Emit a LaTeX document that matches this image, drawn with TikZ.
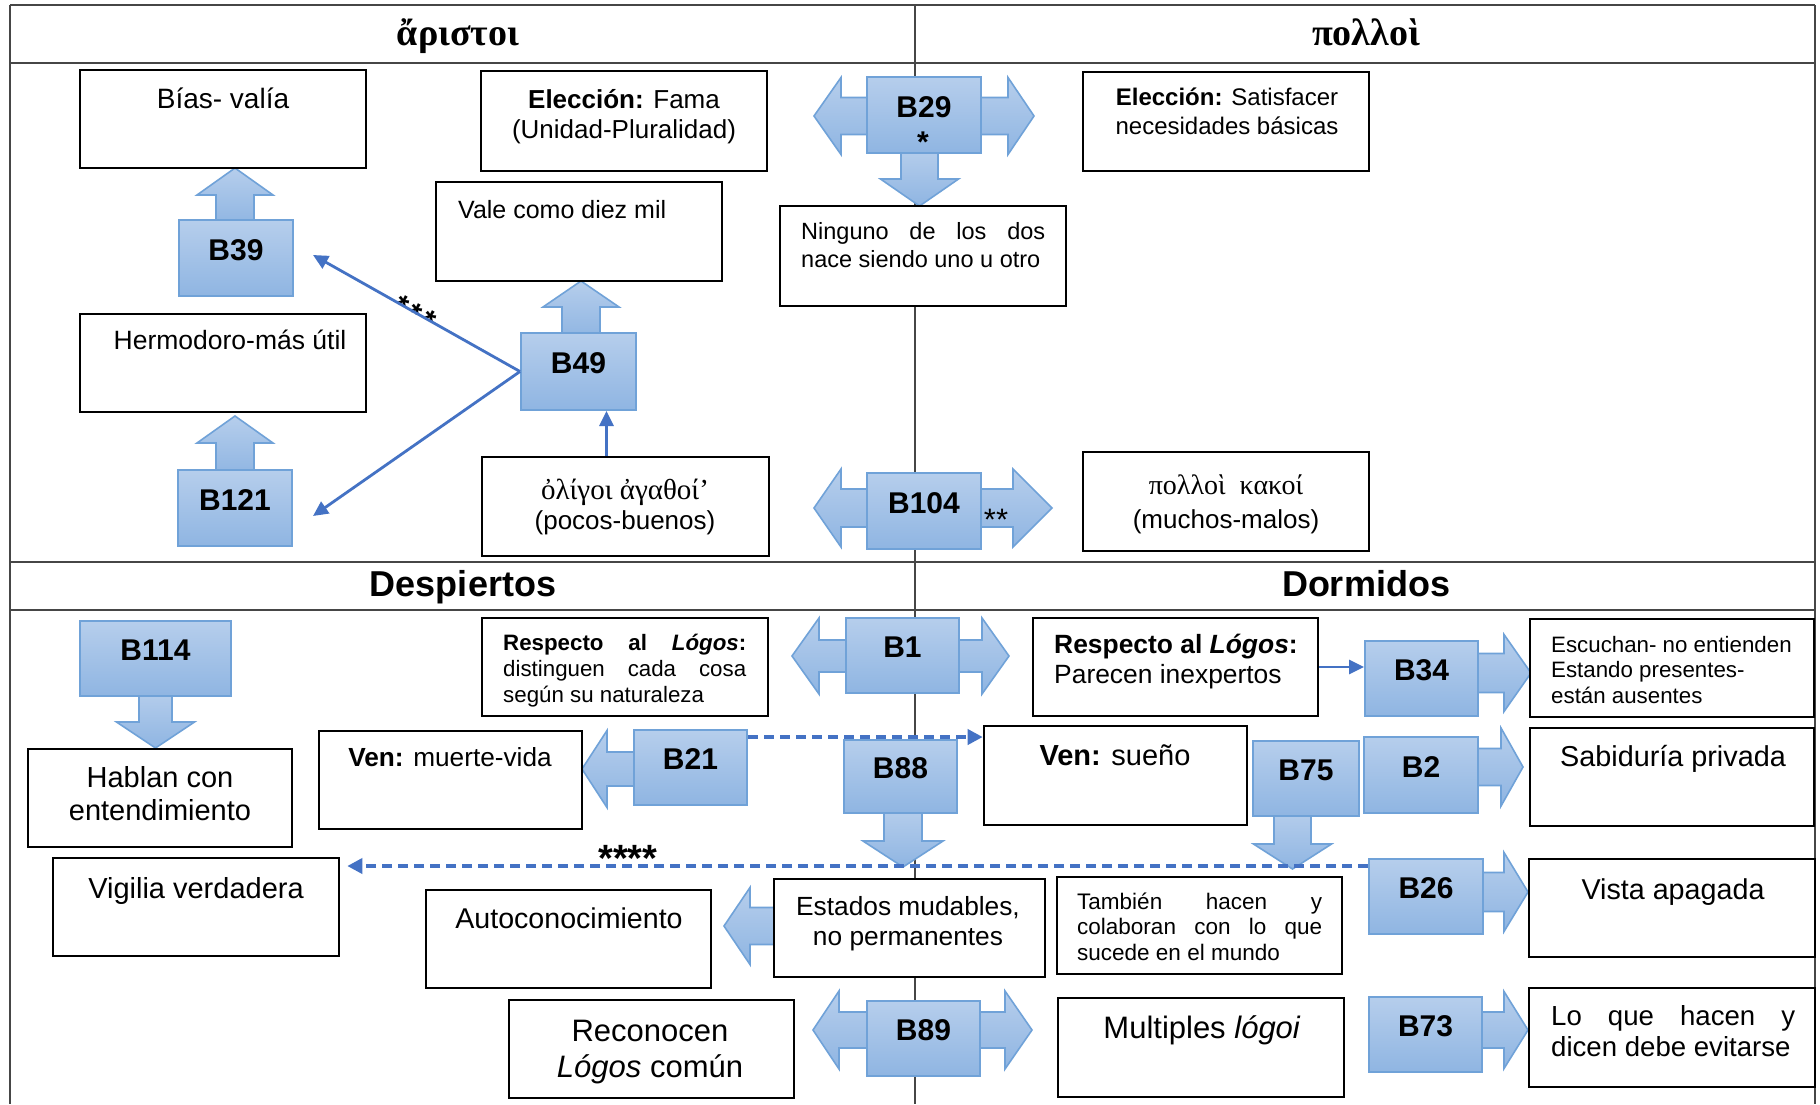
\documentclass[tikz,border=0pt]{standalone}
\usepackage{fontspec}
\setmainfont{Liberation Sans}
\newfontfamily\grk{Liberation Serif}
\usetikzlibrary{arrows.meta}
\definecolor{btop}{RGB}{182,206,236}
\definecolor{bbot}{RGB}{143,181,226}
\definecolor{bedge}{RGB}{112,162,216}
\definecolor{connc}{RGB}{68,114,196}
\definecolor{framec}{RGB}{70,70,70}
\tikzset{
  frameline/.style={draw=framec, line width=1.6pt},
  wbox/.style={draw=black, line width=2.6pt, fill=white, inner sep=0pt},
  bbox/.style={draw=bedge, line width=2pt, top color=btop, bottom color=bbot, inner sep=0pt},
  barrow/.style={draw=bedge, line width=1.6pt, top color=btop, bottom color=bbot},
  blab/.style={inner sep=0pt, font=\bfseries\fontsize{30}{36}\selectfont},
  conn/.style={draw=connc, line width=2.8pt, -{Triangle[length=15pt,width=14pt]}},
  dconn/.style={draw=connc, line width=3.6pt, dash pattern=on 10pt off 6pt, -{Triangle[length=15pt,width=15pt]}},
  tx/.style={inner sep=0pt, anchor=base},
  txl/.style={inner sep=0pt, anchor=base west}
}
\newcommand{\wb}[5]{\node[wbox, minimum width={(#4-#2)*1pt}, minimum height={(#5-#3)*1pt}] (#1) at ({(#2+#4)/2},{(#3+#5)/2}) {};}
\newcommand{\bb}[6]{\node[bbox, minimum width={(#4-#2)*1pt}, minimum height={(#5-#3)*1pt}, label={[blab, yshift=8pt]center:#6}] (#1) at ({(#2+#4)/2},{(#3+#5)/2}) {};}
% horizontal single arrow: xs, xh, xt, yc, shaft half, head half
\newcommand{\arR}[6]{\path[barrow] (#1,#4-#5) -- (#2,#4-#5) -- (#2,#4-#6) -- (#3,#4) -- (#2,#4+#6) -- (#2,#4+#5) -- (#1,#4+#5) -- cycle;}
% vertical single arrow: xc, ys, yh, yt, shaft half, head half
\newcommand{\arV}[6]{\path[barrow] (#1-#5,#2) -- (#1-#5,#3) -- (#1-#6,#3) -- (#1,#4) -- (#1+#6,#3) -- (#1+#5,#3) -- (#1+#5,#2) -- cycle;}
% double arrow: left tip, left head base, right head base, right tip, yc, shaft half, head half
\newcommand{\arD}[7]{\path[barrow] (#1,#5) -- (#2,#5-#7) -- (#2,#5-#6) -- (#3,#5-#6) -- (#3,#5-#7) -- (#4,#5) -- (#3,#5+#7) -- (#3,#5+#6) -- (#2,#5+#6) -- (#2,#5+#7) -- cycle;}
\newcommand{\mlc}[1]{\begin{tabular}[t]{@{}c@{}}#1\end{tabular}}
\newcommand{\mll}[1]{\begin{tabular}[t]{@{}l@{}}#1\end{tabular}}
\newcommand{\fs}[2]{\fontsize{#1}{#2}\selectfont}

\begin{document}
\begin{tikzpicture}[x=1pt,y=-1pt]
\useasboundingbox (0,0) rectangle (1820,1104);
\fill[white] (0,0) rectangle (1820,1104);

% frame
\draw[frameline] (10,5) -- (1815,5);
\draw[frameline] (10,63) -- (1815,63);
\draw[frameline] (10,562) -- (1815,562);
\draw[frameline] (10,610) -- (1815,610);
\draw[frameline] (10,5) -- (10,1104);
\draw[frameline] (1815,5) -- (1815,1104);
\draw[frameline] (915,5) -- (915,1104);

% headers
\node[tx, font=\grk\bfseries\fs{38}{44}] (aristoi) at (458,45) {ἄριστοι};
\node[tx, font=\grk\bfseries\fs{38}{44}] (polloi) at (1366,45) {πολλοὶ};
\node[tx, font=\bfseries\fs{36}{40}] (desp) at (463,596) {Despiertos};
\node[tx, font=\bfseries\fs{36}{40}] (dorm) at (1366,596) {Dormidos};

% block arrows
\arV{235}{225}{195}{168}{19}{38}
\arV{235}{475}{443}{416}{19}{38}
\arV{581}{338}{307}{281}{19}{38}
\arD{814}{841}{1008}{1034}{116}{18.5}{38.5}
\arV{919.5}{148}{179}{206}{18.5}{39}
\arD{814}{841}{1013}{1052}{508}{19}{39}
\arV{155.5}{690}{722}{748}{16.5}{39}
\arD{792}{819}{982}{1009}{656}{16}{38}
\arR{640}{607}{582}{769}{17}{38.5}
\arV{903}{808}{841}{867}{19}{40}
\arR{780}{750}{724}{926}{18.5}{38.5}
\arD{813}{839}{1005}{1032}{1030}{18}{39}
\arR{1472}{1504}{1531}{673}{19.5}{38.5}
\arV{1292.5}{810}{844}{869}{18.5}{39}
\arR{1472}{1501}{1523}{767}{18.5}{39}
\arR{1477}{1504}{1528}{892}{19.5}{39.5}
\arR{1476}{1504}{1528}{1030}{18}{38.5}

% blue boxes
\bb{b39}{179}{220}{293}{296}{B39}
\bb{b49}{521}{333}{636}{410}{B49}
\bb{b121}{178}{470}{292}{546}{B121}
\bb{b29}{867}{77}{981}{153}{B29}
\bb{b104}{867}{473}{981}{549}{B104}
\bb{b114}{80}{621}{231}{696}{B114}
\bb{b1}{846}{618}{959}{693}{B1}
\bb{b21}{634}{730}{747}{805}{B21}
\bb{b88}{844}{740}{957}{813}{B88}
\bb{b89}{867}{1001}{980}{1076}{B89}
\bb{b34}{1365}{641}{1478}{716}{B34}
\bb{b75}{1253}{741}{1359}{816}{B75}
\bb{b2}{1364}{737}{1478}{813}{B2}
\bb{b26}{1369}{859}{1483}{934}{B26}
\bb{b73}{1369}{997}{1482}{1072}{B73}

% white boxes
\wb{bias}{80}{70}{366}{168}
\wb{fama}{481}{71}{767}{171}
\wb{vale}{436}{182}{722}{281}
\wb{hermo}{80}{314}{366}{412}
\wb{oligoi}{482}{457}{769}{556}
\wb{ninguno}{780}{206}{1066}{306}
\wb{satisf}{1083}{72}{1369}{171}
\wb{kakoi}{1083}{452}{1369}{551}
\wb{hablan}{28}{749}{292}{847}
\wb{resp1}{482}{618}{768}{716}
\wb{muerte}{319}{731}{582}{829}
\wb{vigilia}{53}{858}{339}{956}
\wb{auto}{426}{890}{711}{988}
\wb{estados}{774}{879}{1045}{977}
\wb{reconocen}{509}{1000}{794}{1098}
\wb{resp2}{1033}{618}{1318}{716}
\wb{sueno}{984}{726}{1247}{825}
\wb{escuchan}{1530}{619}{1814}{717}
\wb{sabiduria}{1530}{728}{1814}{826}
\wb{tambien}{1057}{877}{1342}{974}
\wb{vista}{1529}{859}{1815}{957}
\wb{multiples}{1058}{998}{1344}{1097}
\wb{lo}{1529}{988}{1815}{1087}

% texts
\node[tx, font=\fs{28}{32}] (bias-t) at (223,108) {Bías- valía};
\node[tx, font=\fs{26}{30}] (fama-t) at (624,108) {\mlc{\textbf{Elección:} Fama\\(Unidad-Pluralidad)}};
\node[txl, font=\fs{25}{30}] (vale-t) at (458,218) {Vale como diez mil};
\node[tx, font=\fs{26.5}{30}] (hermo-t) at (230,349) {Hermodoro-más útil};
\node[tx, font=\fs{26}{30}] (oligoi-t) at (625,499) {\mlc{{\grk\fs{29}{30}ὀλίγοι ἀγαθοί’}\\(pocos-buenos)}};
\node[txl, font=\fs{23.5}{28}] (ninguno-t) at (801,239) {\mll{\makebox[244pt][s]{Ninguno de los dos}\\nace siendo uno u otro}};
\node[tx, font=\fs{24}{29}] (satisf-t) at (1227,105) {\mlc{\textbf{Elección:} Satisfacer\\necesidades básicas}};
\node[tx, font=\fs{26}{34}] (kakoi-t) at (1226,494) {\mlc{{\grk\fs{28}{34}πολλοὶ\ \ κακοί}\\(muchos-malos)}};
\node[tx, font=\fs{29}{33}] (hablan-t) at (160,787) {\mlc{Hablan con\\entendimiento}};
\node[txl, font=\fs{22.3}{26}] (resp1-t) at (503,650) {\mll{\makebox[243pt][s]{\textbf{Respecto al \textit{Lógos}:}}\\\makebox[243pt][s]{distinguen cada cosa}\\según su naturaleza}};
\node[tx, font=\fs{26.2}{30}] (muerte-t) at (450,766) {\textbf{Ven:} muerte-vida};
\node[tx, font=\fs{29}{33}] (vigilia-t) at (196,898) {Vigilia verdadera};
\node[tx, font=\fs{28.6}{33}] (auto-t) at (569,928) {Autoconocimiento};
\node[tx, font=\fs{26.3}{30}] (estados-t) at (908,915) {\mlc{Estados mudables,\\no permanentes}};
\node[tx, font=\fs{31}{36}] (reconocen-t) at (650,1041) {\mlc{Reconocen\\\textit{Lógos} común}};
\node[txl, font=\fs{26.4}{30}] (resp2-t) at (1054,653) {\mll{\textbf{Respecto al \textit{Lógos}:}\\Parecen inexpertos}};
\node[tx, font=\fs{29}{33}] (sueno-t) at (1115,765) {\textbf{Ven:} sueño};
\node[txl, font=\fs{22.3}{25.5}] (escuchan-t) at (1551,652) {\mll{Escuchan- no entienden\\Estando presentes-\\están ausentes}};
\node[tx, font=\fs{28.8}{33}] (sabiduria-t) at (1673,766) {Sabiduría privada};
\node[txl, font=\fs{22.5}{25.5}] (tambien-t) at (1077,909) {\mll{\makebox[245pt][s]{También hacen y}\\\makebox[245pt][s]{colaboran con lo que}\\sucede en el mundo}};
\node[tx, font=\fs{28.7}{33}] (vista-t) at (1673,899) {Vista apagada};
\node[tx, font=\fs{31}{36}] (multiples-t) at (1202,1038) {Multiples \textit{lógoi}};
\node[txl, font=\fs{27.6}{31}] (lo-t) at (1551,1025) {\mll{\makebox[244pt][s]{Lo que hacen y}\\dicen debe evitarse}};

% stars
\node[tx, font=\bfseries\fs{30}{34}] (s29) at (923,152) {*};
\node[tx, font=\fs{31}{34}] (s104) at (996,530) {**};
\node[tx, font=\bfseries\fs{30}{38}, rotate=-29.5] (s3) at (410,322) {*\kern4pt*\kern4pt*};
\node[tx, font=\bfseries\fs{38}{40}] (s4) at (628,871) {****};

% connectors
\draw[conn] (b49.west) -- ([xshift=19pt,yshift=3pt]b39.east);
\draw[conn] (b49.west) -- ([xshift=20pt,yshift=-8pt]b121.east);
\draw[conn] ([xshift=-19pt]oligoi.north) -- ([xshift=-19pt]oligoi.north |- b49.south);
\draw[conn] (resp2.east) -- (resp2.east -| b34.west);
\draw[dconn] ([yshift=-8pt]b21.north east) -- ([yshift=-8pt]b21.north east -| sueno.west);
\draw[dconn, shorten >=7pt] ([yshift=-8pt]b26.north west) -- ([yshift=-8pt]b26.north west -| vigilia.east);
\end{tikzpicture}
\end{document}
